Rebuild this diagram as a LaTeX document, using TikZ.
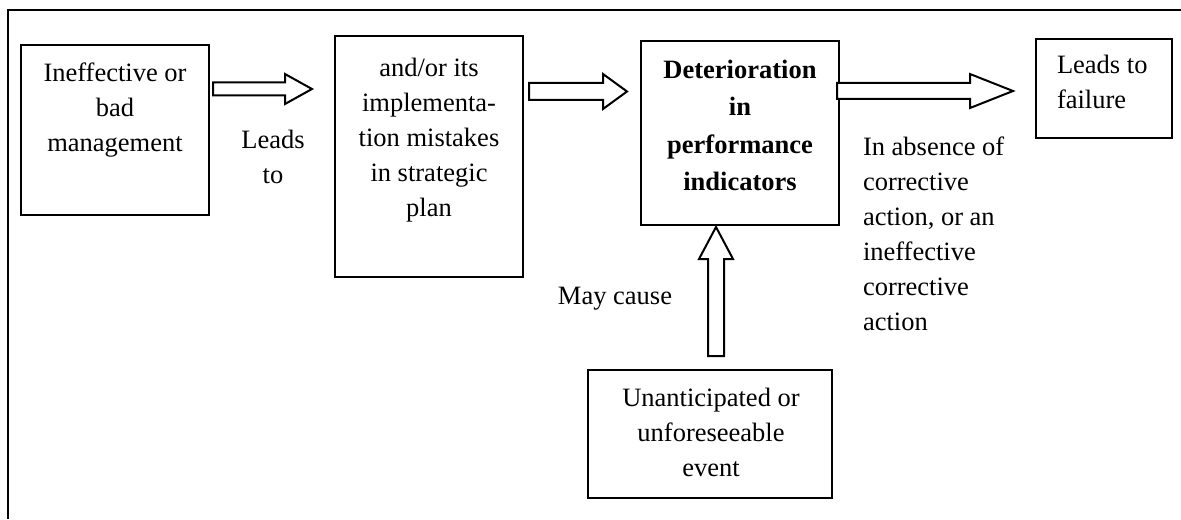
\documentclass[tikz,border=0pt]{standalone}
\usepackage{fontspec}
\setmainfont{Liberation Serif}
\usetikzlibrary{calc}

% hollow block arrow, horizontal: start, tip, shaft half-width, head half-width, head length
\newcommand\hblock[5]{%
  \draw[hollow] let \p1=#1, \p2=#2 in
    (\x1,{\y1+#3}) -- ({\x2-#5},{\y1+#3}) -- ({\x2-#5},{\y1+#4}) -- (\x2,\y1)
    -- ({\x2-#5},{\y1-#4}) -- ({\x2-#5},{\y1-#3}) -- (\x1,{\y1-#3}) -- cycle;}
% hollow block arrow pointing up: foot, tip, shaft half-width, head half-width, head length
\newcommand\vblock[5]{%
  \draw[hollow] let \p1=#1, \p2=#2 in
    ({\x1-#3},\y1) -- ({\x1-#3},{\y2-#5}) -- ({\x1-#4},{\y2-#5}) -- (\x1,\y2)
    -- ({\x1+#4},{\y2-#5}) -- ({\x1+#3},{\y2-#5}) -- ({\x1+#3},\y1) -- cycle;}

\begin{document}
\begin{tikzpicture}[x=0.5pt,y=-0.5pt,
  box/.style={draw, line width=1pt, inner sep=0pt, outer sep=0pt},
  hollow/.style={draw, fill=white, line width=1pt, line join=miter},
  frame/.style={draw, line width=1.2pt},
  txt/.style={inner sep=0pt, outer sep=0pt, align=center,
    font=\fontsize{13.25}{17.5}\selectfont},
  ltxt/.style={txt, align=left},
  btxt/.style={txt, font=\fontsize{13.25}{18.7}\selectfont\bfseries}]

\useasboundingbox (0,0) rectangle (1181,519);
\draw[frame] (1181,10) -- (8,10) -- (8,519);

% boxes
\node[box, minimum width=94pt, minimum height=85pt]   (b1) at (115,130) {};
\node[box, minimum width=94pt, minimum height=120.5pt] (b2) at (429,156.5) {};
\node[box, minimum width=99pt, minimum height=92pt]   (b3) at (740,133) {};
\node[box, minimum width=68pt, minimum height=49.5pt] (b4) at (1104,88.5) {};
\node[box, minimum width=122pt, minimum height=64pt]  (b5) at (710,434) {};

% box texts
\node[txt, anchor=north] (t1) at ($(b1.north)+(0,18)$)
  {Ineffective or\\bad\\management};
\node[txt, anchor=north] (t2) at ($(b2.north)+(0,22)$)
  {and/or its\\implementa-\\tion mistakes\\in strategic\\plan};
\node[btxt, anchor=north] (t3) at ($(b3.north)+(0,19)$)
  {Deterioration\\in\\performance\\indicators};
\node[ltxt, anchor=north west] (t4) at ($(b4.north west)+(21,16)$)
  {Leads to\\failure};
\node[txt, anchor=north] (t5) at ($(b5.north)+(1,18)$)
  {Unanticipated or\\unforeseeable\\event};

% connectors
\hblock{($(b1.north east)+(4,44)$)}{($(b2.north west)+(-23,53)$)}{3.25pt}{7.5pt}{13.5pt}
\hblock{($(b2.north east)+(6,55.5)$)}{($(b3.north west)+(-14,50.5)$)}{4.25pt}{8.75pt}{12pt}
\hblock{($(b3.north east)+(-2,50)$)}{($(b4.north west)+(-23,52)$)}{4pt}{8.5pt}{21.5pt}
\vblock{($(b5.north)+(6,-14)$)}{($(b3.south)+(-24,2)$)}{4pt}{8.5pt}{16pt}

% connector labels
\node[txt, anchor=north] (l1) at ($(b1.north east)+(64,85)$) {Leads\\to};
\node[txt, anchor=north] (l2) at ($(b5.north west)+(27,-83)$) {May cause};
\node[ltxt, anchor=north west] (l3) at ($(b3.north east)+(24,96)$)
  {In absence of\\corrective\\action, or an\\ineffective\\corrective\\action};
\end{tikzpicture}
\end{document}
